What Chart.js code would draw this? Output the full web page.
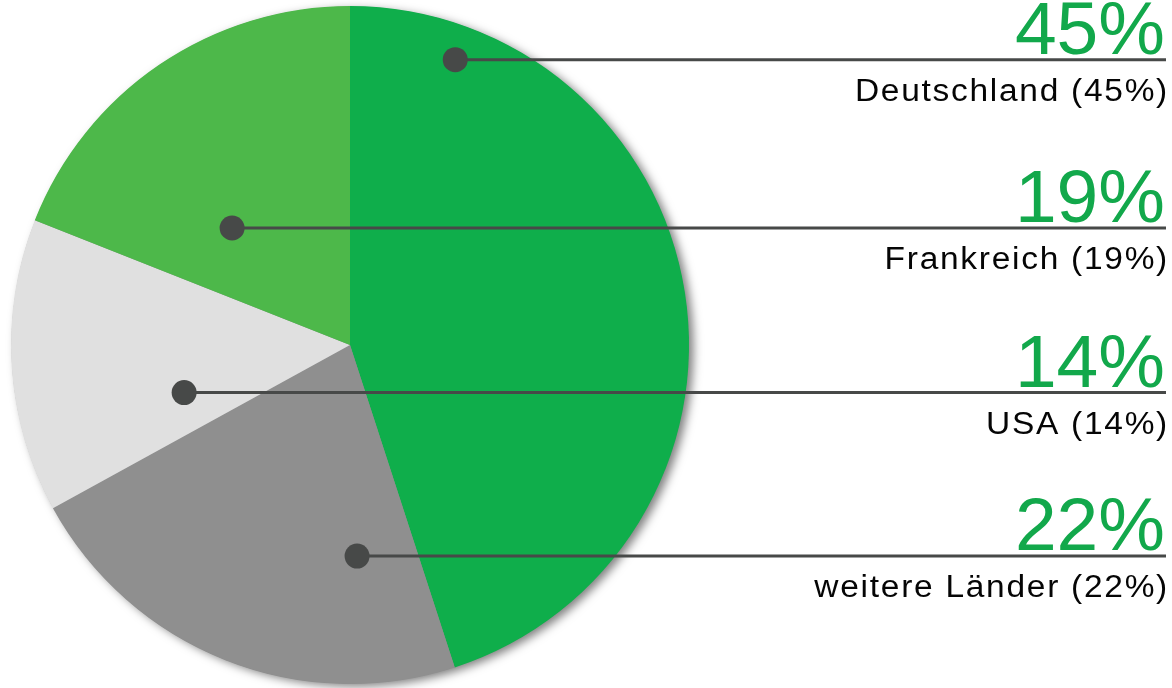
<!DOCTYPE html>
<html>
<head>
<meta charset="utf-8">
<script src="https://cdn.jsdelivr.net/npm/chart.js@4/dist/chart.umd.min.js"></script>
<style>
  html, body { margin: 0; padding: 0; background: #fff; }
  #wrap { width: 1172px; height: 688px; position: relative; }
</style>
</head>
<body>
<div id="wrap"><canvas id="torte"></canvas></div>
<script>
// Daten (im Uhrzeigersinn ab 12 Uhr)
const laender = ['Deutschland', 'weitere Länder', 'USA', 'Frankreich'];
const anteile = [45, 22, 14, 19];
const farben = ['#0fae4b', '#8f8f8f', '#e0e0e0', '#4db84a'];

// Lage der Markierungspunkte innerhalb des jeweiligen Segments
const punktWinkel = [0.125, 0.203, 0.254, 0.339];   // Anteil des Segmentwinkels
const punktRadius = [0.897, 0.623, 0.509, 0.49];    // Anteil des Radius

// Schatten unter der ganzen Torte
const schattenPlugin = {
    id: 'schatten',
    beforeDatasetsDraw(chart) {
        const arc = chart.getDatasetMeta(0).data[0];
        if (!arc) return;
        const ctx = chart.ctx;
        ctx.save();
        ctx.shadowColor = 'rgba(0,0,0,0.5)';
        ctx.shadowBlur = 10;
        ctx.shadowOffsetX = 5;
        ctx.shadowOffsetY = 3;
        ctx.fillStyle = '#8f8f8f';
        ctx.beginPath();
        ctx.arc(arc.x, arc.y, arc.outerRadius - 0.5, 0, Math.PI * 2);
        ctx.fill();
        ctx.restore();
    }
};

// Punkte, Linien und Beschriftungen rechts
const beschriftungPlugin = {
    id: 'beschriftung',
    afterDatasetsDraw(chart) {
        const ctx = chart.ctx;
        const rechts = chart.width - 6;
        chart.getDatasetMeta(0).data.forEach(function (arc, i) {
            const w = arc.startAngle + punktWinkel[i] * (arc.endAngle - arc.startAngle);
            const r = punktRadius[i] * arc.outerRadius;
            const px = arc.x + Math.cos(w) * r;
            const py = arc.y + Math.sin(w) * r;

            ctx.save();
            // Linie
            ctx.strokeStyle = '#474948';
            ctx.lineWidth = 3;
            ctx.beginPath();
            ctx.moveTo(px, py);
            ctx.lineTo(rechts, py);
            ctx.stroke();
            // Punkt
            ctx.fillStyle = '#474948';
            ctx.beginPath();
            ctx.arc(px, py, 12.5, 0, Math.PI * 2);
            ctx.fill();

            // große Prozentzahl
            ctx.textAlign = 'right';
            ctx.textBaseline = 'alphabetic';
            ctx.fillStyle = '#12a84b';
            ctx.font = '75px "Liberation Sans", Arial, sans-serif';
            ctx.fillText(anteile[i] + '%', rechts - 1, py - 6);

            // Ländername (leicht breit gezogen wie im Original)
            ctx.fillStyle = '#050505';
            ctx.font = '31px "Liberation Sans", Arial, sans-serif';
            ctx.letterSpacing = '1.6px';
            ctx.translate(rechts + 3, py + 41);
            ctx.scale(1.08, 1);
            ctx.fillText(laender[i] + ' (' + anteile[i] + '%)', 0, 0);
            ctx.restore();
        });
    }
};

const ctx = document.getElementById('torte').getContext('2d');
const torte = new Chart(ctx, {
    type: 'pie',
    data: {
        labels: laender,
        datasets: [{
            data: anteile,
            backgroundColor: farben,
            borderWidth: 0,
            hoverOffset: 0
        }]
    },
    options: {
        responsive: true,
        maintainAspectRatio: false,
        animation: false,
        layout: {
            padding: { left: 11, right: 483, top: 6, bottom: 4 }
        },
        plugins: {
            legend: { display: false },
            tooltip: { enabled: false }
        }
    },
    plugins: [schattenPlugin, beschriftungPlugin]
});
</script>
</body>
</html>
